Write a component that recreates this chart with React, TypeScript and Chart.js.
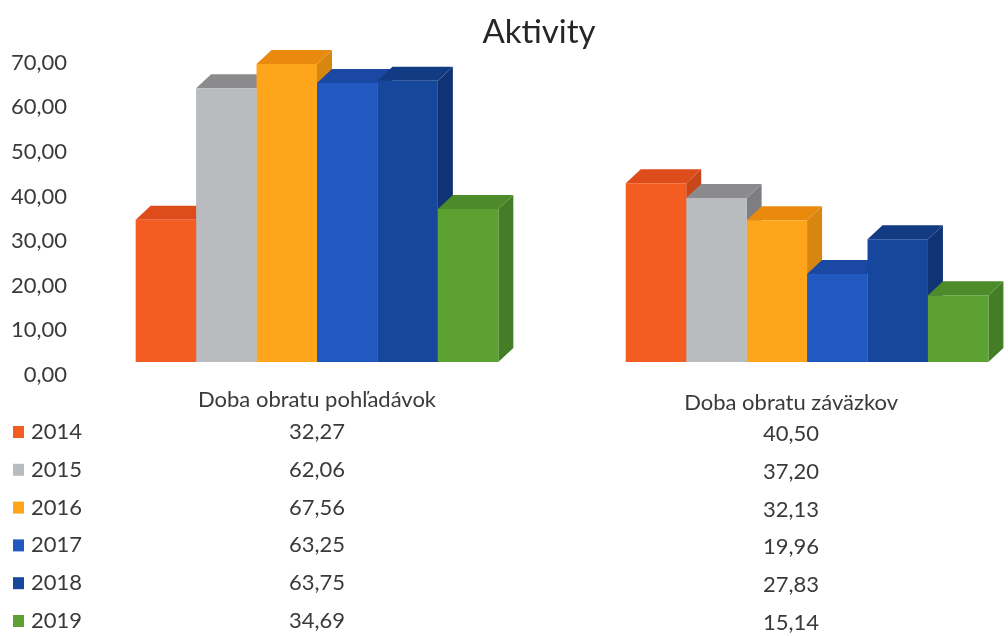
import React, { useEffect, useRef } from 'react';
import { Chart, registerables } from 'chart.js';

Chart.register(...registerables);

// ---- data ----
const categories = ['Doba obratu pohľadávok', 'Doba obratu záväzkov'];
const years = ['2014', '2015', '2016', '2017', '2018', '2019'];
const values2014 = [32.27, 40.5];
const values2015 = [62.06, 37.2];
const values2016 = [67.56, 32.13];
const values2017 = [63.25, 19.96];
const values2018 = [63.75, 27.83];
const values2019 = [34.69, 15.14];
const seriesValues = [values2014, values2015, values2016, values2017, values2018, values2019];
const yTickValues = [0, 10, 20, 30, 40, 50, 60, 70];

// ---- styles ----
const frontColors = ['#F35D22', '#B9BCBF', '#FFA51C', '#2159C1', '#16479D', '#5EA133'];
const topColors = ['#DE4C1B', '#8B8B8D', '#E98A0E', '#1B48A2', '#123B84', '#4D8B2A'];
const sideColors = ['#C8461A', '#7D7E81', '#D7860F', '#1A3F8E', '#0F3374', '#457D26'];
const FONT = 'Lato, "Open Sans", sans-serif';
const TEXT = '#3a3a3a';
const DEPTH_X = 15;
const DEPTH_Y = -14;

const fmt = (v: number) => v.toFixed(2).replace('.', ',');

const threeDPlugin = {
  id: 'threeD',
  beforeDatasetsDraw(chart: any) {
    const ctx = chart.ctx;
    ctx.save();
    const n = chart.data.datasets.length;
    const count = categories.length;
    for (let c = 0; c < count; c++) {
      for (let i = 0; i < n; i++) {
        const meta = chart.getDatasetMeta(i);
        const el = meta.data[c];
        if (!el) continue;
        const { x, y, base, width } = el.getProps(['x', 'y', 'base', 'width'], true);
        const left = x - width / 2;
        const right = x + width / 2;
        // side face
        ctx.fillStyle = sideColors[i];
        ctx.beginPath();
        ctx.moveTo(right, y);
        ctx.lineTo(right + DEPTH_X, y + DEPTH_Y);
        ctx.lineTo(right + DEPTH_X, base + DEPTH_Y);
        ctx.lineTo(right, base);
        ctx.closePath();
        ctx.fill();
        // top face
        ctx.fillStyle = topColors[i];
        ctx.beginPath();
        ctx.moveTo(left, y);
        ctx.lineTo(left + DEPTH_X, y + DEPTH_Y);
        ctx.lineTo(right + DEPTH_X, y + DEPTH_Y);
        ctx.lineTo(right, y);
        ctx.closePath();
        ctx.fill();
      }
    }
    ctx.restore();
  },
};

const tablePlugin = {
  id: 'dataTable',
  afterDraw(chart: any) {
    const ctx = chart.ctx;
    const xs = chart.scales.x;
    const colShift = [0, -16];
    const headerY = [400, 403];
    const rowTop = 432;
    const rowStep = 37.8;
    ctx.save();
    ctx.fillStyle = TEXT;
    ctx.font = `22px ${FONT}`;
    ctx.textAlign = 'center';
    ctx.textBaseline = 'middle';
    categories.forEach((cat, c) => {
      const cx = xs.getPixelForValue(c) + colShift[c];
      ctx.fillText(cat, cx, headerY[c]);
      seriesValues.forEach((vals, i) => {
        ctx.fillText(fmt(vals[c]), cx, rowTop + i * rowStep + c * 2);
      });
    });
    // row headers with legend keys
    ctx.textAlign = 'left';
    years.forEach((yr, i) => {
      const cy = rowTop + i * rowStep;
      ctx.fillStyle = frontColors[i];
      ctx.fillRect(13, cy - 6, 11, 12);
      ctx.fillStyle = TEXT;
      ctx.fillText(yr, 31, cy);
    });
    ctx.restore();
  },
};

export default function App() {
  const canvasRef = useRef<HTMLCanvasElement | null>(null);

  useEffect(() => {
    const canvas = canvasRef.current;
    if (!canvas) return;
    const chart = new Chart(canvas, {
      type: 'bar',
      data: {
        datasets: years.map((yr, i) => ({
          label: yr,
          data: categories.map((_, c) => ({ x: c, y: seriesValues[i][c] })),
          backgroundColor: frontColors[i],
          borderWidth: 0,
          xAxisID: 'x',
          yAxisID: 'yBars',
          clip: false as any,
          categoryPercentage: 0.74,
          barPercentage: 1,
        })),
      },
      options: {
        animation: false,
        responsive: true,
        maintainAspectRatio: false,
        layout: { padding: { left: 0, right: 0, top: 0, bottom: 261 } },
        plugins: {
          legend: { display: false },
          tooltip: { enabled: false },
          title: {
            display: true,
            fullSize: false,
            text: 'Aktivity',
            color: '#262626',
            font: { family: FONT, size: 33, weight: 'normal' },
            padding: { top: 13, bottom: 10 },
          },
        },
        scales: {
          x: {
            type: 'linear',
            display: false,
            offset: false,
            bounds: 'data',
            min: -0.504,
            max: 1.41,
            grid: { offset: false },
            afterBuildTicks: (scale: any) => {
              scale.ticks = categories.map((_, c) => ({ value: c }));
            },
          },
          y: {
            type: 'linear',
            position: 'left',
            min: 0,
            max: 70,
            grid: { display: false, drawTicks: false },
            border: { display: false },
            afterBuildTicks: (scale: any) => {
              scale.ticks = yTickValues.map((v) => ({ value: v }));
            },
            afterFit: (scale: any) => {
              scale.width = 70;
            },
            ticks: {
              color: TEXT,
              padding: 3,
              font: { family: FONT, size: 22 },
              callback: (v: any) => fmt(Number(v)),
            },
          },
          yBars: {
            type: 'linear',
            display: false,
            min: -2.94,
            max: 67.87,
          },
        },
      } as any,
      plugins: [threeDPlugin, tablePlugin],
    });
    return () => chart.destroy();
  }, []);

  return (
    <div style={{ position: 'fixed', left: 0, top: 0, width: 1008, height: 636, background: '#fff' }}>
      <canvas ref={canvasRef} />
    </div>
  );
}
